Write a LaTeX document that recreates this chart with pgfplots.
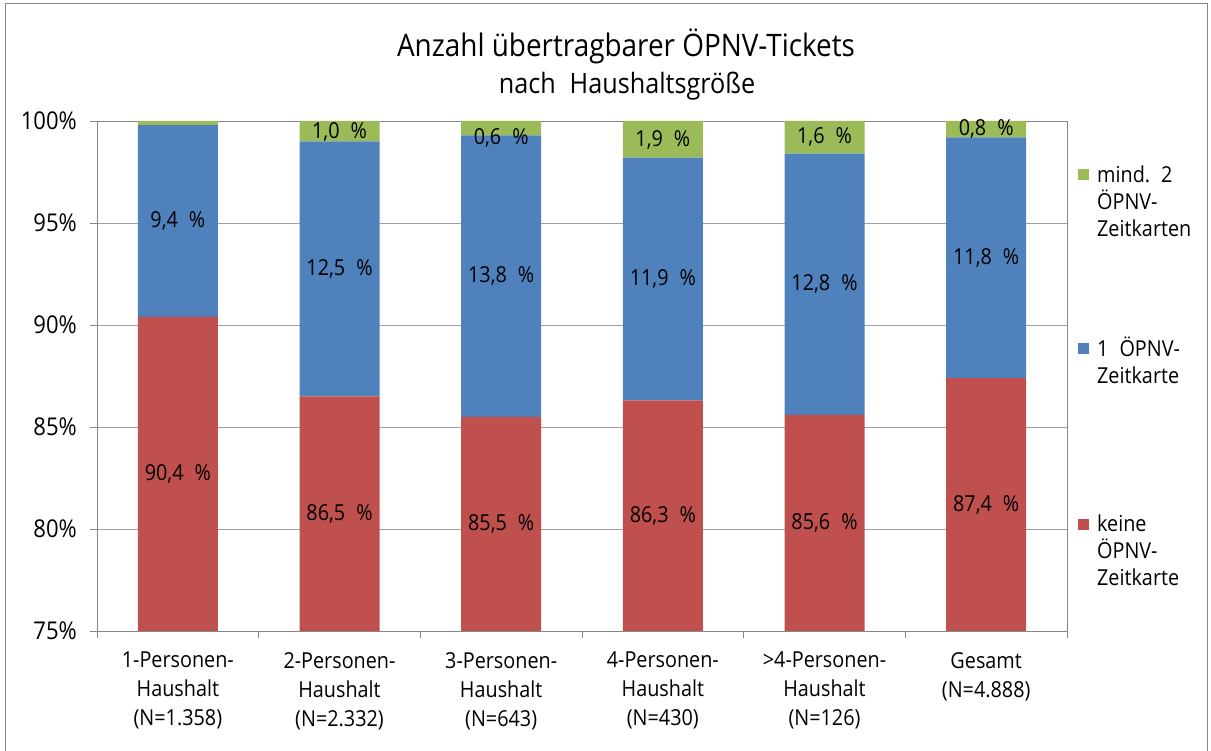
\documentclass[border=0pt]{standalone}
\usepackage{pgfplots}
\pgfplotsset{compat=1.18}
\usepackage{pgfplotstable}
\usepackage{fontspec}
\setmainfont{Open Sans}[FakeStretch=0.9]
\definecolor{cRed}{HTML}{C0504D}
\definecolor{cBlue}{HTML}{4F81BD}
\definecolor{cGreen}{HTML}{9BBB59}
\definecolor{cAxis}{HTML}{868686}
\definecolor{cGrid}{HTML}{A0A0A0}
\newcommand{\fs}{\fontsize{22bp}{27bp}\selectfont}
% values in percent; zwei = rest to 100 (drawn), lz = printed label; gy = label height of the green values
\pgfplotstableread{
x keine eins zwei gy lk le lz
0 90.4 9.4 0.2 99.9 {90,4\enspace\%} {9,4\enspace\%} {}
1 86.5 12.5 1.0 99.45 {86,5\enspace\%} {12,5\enspace\%} {1,0\enspace\%}
2 85.5 13.8 0.7 99.17 {85,5\enspace\%} {13,8\enspace\%} {0,6\enspace\%}
3 86.3 11.9 1.8 99.07 {86,3\enspace\%} {11,9\enspace\%} {1,9\enspace\%}
4 85.6 12.8 1.6 99.2 {85,6\enspace\%} {12,8\enspace\%} {1,6\enspace\%}
5 87.4 11.8 0.8 99.6 {87,4\enspace\%} {11,8\enspace\%} {0,8\enspace\%}
}\datatable
\pgfplotsset{sq/.style={legend image code/.code={\fill[##1] (0bp,{(#1+2)*1bp}) rectangle (11bp,{(#1+13)*1bp});}}}
\begin{document}
\begin{tikzpicture}[x=1bp,y=1bp]
\useasboundingbox (0,0) rectangle (1211,751);
\draw[cAxis, line width=0.8bp] (5,-5) -- (5,748) -- (1207,748) -- (1207,-5);
\node[anchor=base, font=\fontsize{31bp}{31bp}\selectfont] at (626,694) {Anzahl übertragbarer ÖPNV-Tickets};
\node[anchor=base, font=\fontsize{28bp}{28bp}\selectfont] at (627,657) {nach\enspace Haushaltsgröße};
\begin{axis}[
  at={(97bp,120bp)}, anchor=south west,
  scale only axis, width=970bp, height=510bp,
  ybar stacked, bar width=80bp,
  xmin=-0.5, xmax=5.5, ymin=75, ymax=100,
  xtick={-0.5,0.5,...,5.5}, xticklabels={},
  extra x ticks={0,1,2,3,4,5},
  extra x tick labels={{1-Personen-\\Haushalt\\(N=1.358)},{2-Personen-\\Haushalt\\(N=2.332)},{3-Personen-\\Haushalt\\(N=643)},{4-Personen-\\Haushalt\\(N=430)},{\textgreater4-Personen-\\Haushalt\\(N=126)},{Gesamt\\(N=4.888)}},
  extra x tick style={major tick length=0pt, grid=none},
  ytick={75,80,...,100},
  yticklabels={75\%,80\%,85\%,90\%,95\%,100\%},
  tick align=outside, major tick length=7bp,
  xtick pos=bottom, ytick pos=left,
  tick style={cAxis, line width=0.8bp},
  axis line style={cAxis, line width=0.8bp},
  ymajorgrids, grid style={cGrid, line width=0.8bp},
  yticklabel style={font=\fontsize{24.5bp}{27bp}\selectfont, inner sep=0pt, xshift=-13bp},
  xticklabel style={font=\fontsize{22bp}{29bp}\selectfont, align=center, inner sep=0pt, yshift=-21bp},
  reverse legend,
  legend style={at={(1.0113,0.913)}, anchor=north west, draw=none, fill=none, inner sep=0pt,
    row sep=99bp, font=\fs, cells={anchor=base west},
    nodes={inner ysep=0pt, inner xsep=8bp, align=left}},
]
\addplot[fill=cRed, draw=none, sq=54] table[x=x, y=keine] {\datatable};
\addlegendentry{\rule{0pt}{48bp}keine\\ÖPNV-\\Zeitkarte}
\addplot[fill=cBlue, draw=none, sq=27] table[x=x, y=eins] {\datatable};
\addlegendentry{1\enspace ÖPNV-\\Zeitkarte}
\addplot[fill=cGreen, draw=none, sq=54] table[x=x, y=zwei] {\datatable};
\addlegendentry{mind.\enspace 2\\ÖPNV-\\Zeitkarten}
\end{axis}
% data labels, centred in the visible part of each segment
\begin{axis}[
  at={(97bp,120bp)}, anchor=south west,
  scale only axis, width=970bp, height=510bp,
  xmin=-0.5, xmax=5.5, ymin=75, ymax=100,
  axis lines=none, clip=false,
  every node near coord/.append style={font=\fs, anchor=center, inner sep=0pt},
]
\addplot[only marks, mark=none, point meta=explicit symbolic, nodes near coords]
  table[x=x, y expr={(75+\thisrow{keine})/2}, meta=lk] {\datatable};
\addplot[only marks, mark=none, point meta=explicit symbolic, nodes near coords]
  table[x=x, y expr={\thisrow{keine}+\thisrow{eins}/2}, meta=le] {\datatable};
\addplot[only marks, mark=none, point meta=explicit symbolic, nodes near coords]
  table[x=x, y=gy, meta=lz] {\datatable};
\end{axis}
\end{tikzpicture}
\end{document}
